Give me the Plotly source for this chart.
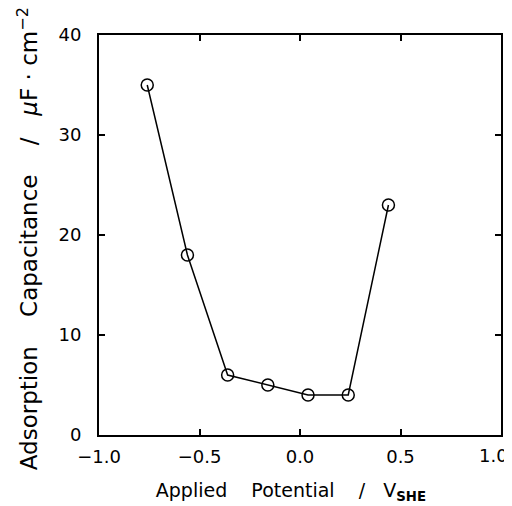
import plotly.graph_objects as go

potential = [-0.76, -0.56, -0.36, -0.16, 0.04, 0.24, 0.44]
capacitance = [35, 18, 6, 5, 4, 4, 23]

x_ticks = [-1.0, -0.5, 0.0, 0.5, 1.0]
x_tick_text = ["\u22121.0", "\u22120.5", "0.0", "0.5", ""]
last_tick_label = "1.0"
y_ticks = [0, 10, 20, 30, 40]

fig = go.Figure()
fig.add_trace(go.Scatter(
    x=potential, y=capacitance, mode="lines+markers",
    line=dict(color="black", width=1.5),
    marker=dict(symbol="circle-open", size=12, color="black", line=dict(width=1.5)),
    showlegend=False,
))

font_family = "DejaVu Sans"
fig.update_layout(
    width=504, height=498,
    margin=dict(l=91, r=11, t=27, b=71),
    paper_bgcolor="white", plot_bgcolor="white",
    font=dict(family=font_family, color="black", size=18),
)
fig.add_annotation(
    x=x_ticks[-1], xref="x", y=0, yref="paper",
    text=last_tick_label, showarrow=False,
    xanchor="right", yanchor="top", xshift=9, yshift=-8,
    font=dict(size=18, family=font_family, color="black"),
)
fig.update_xaxes(
    range=[-1.0, 1.0], tickvals=x_ticks, ticktext=x_tick_text,
    ticks="inside", ticklen=6, tickwidth=1.5, tickcolor="black",
    showline=True, linecolor="black", linewidth=2, mirror="ticks",
    showgrid=False, zeroline=False, automargin=False,
    ticklabelstandoff=4,
    tickfont=dict(size=18),
    title=dict(text="Applied\u00a0\u00a0\u00a0\u00a0Potential\u00a0\u00a0\u00a0\u00a0/\u00a0\u00a0\u00a0V<sub><b>SHE</b></sub>\u00a0\u00a0\u00a0\u200b", font=dict(size=19), standoff=18),
)
fig.update_yaxes(
    range=[0, 40], tickvals=y_ticks,
    ticks="inside", ticklen=6, tickwidth=1.5, tickcolor="black",
    showline=True, linecolor="black", linewidth=2, mirror="ticks",
    showgrid=False, zeroline=False, automargin=False,
    ticklabelstandoff=12,
    tickfont=dict(size=18),
    title=dict(text="Adsorption\u00a0\u00a0\u00a0\u00a0Capacitance\u00a0\u00a0\u00a0\u00a0/\u00a0\u00a0\u00a0<i>\u03bc</i>F\u00a0\u00b7\u00a0cm<sup>\u22122</sup>\u00a0\u200b", font=dict(size=23), standoff=14),
)
fig.write_html("out.html")
